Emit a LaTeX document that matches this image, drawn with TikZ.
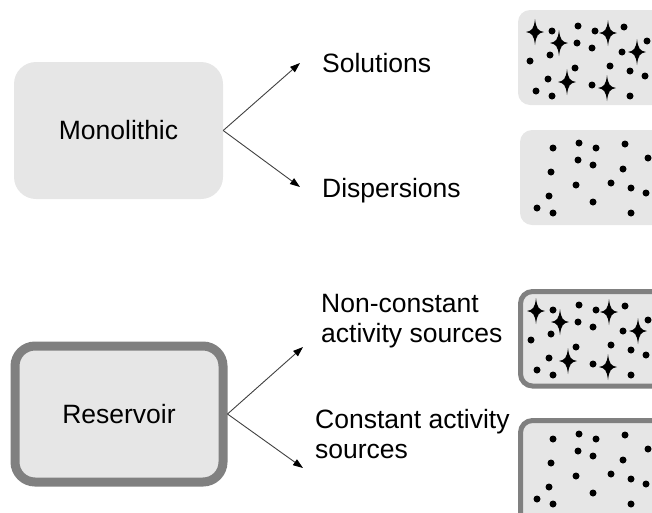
\documentclass[tikz,border=0pt]{standalone}
\usepackage{fontspec}
\setmainfont{Liberation Sans}
\usetikzlibrary{arrows.meta}
\definecolor{boxfill}{HTML}{E6E6E6}
\definecolor{rim}{HTML}{808080}
\definecolor{wire}{HTML}{404040}
\begin{document}
\begin{tikzpicture}[x=1pt,y=-1pt,
  every node/.style={font=\fontsize{26.5}{30}\selectfont},
  kindbox/.style={fill=boxfill, rounded corners=22pt, inner sep=0pt,
    minimum width=209pt, minimum height=137pt},
  rimbox/.style={kindbox, draw=rim, line width=9pt, rounded corners=20pt,
    minimum width=208pt, minimum height=136pt},
  label/.style={anchor=base west, inner sep=0pt, align=left},
  link/.style={draw=wire, line width=0.9pt,
    -{Triangle[length=10pt,width=7pt,fill=black,color=black]}},
  panel/.style={fill=boxfill, rounded corners=12pt},
  rimpanel/.style={panel, draw=rim, line width=5pt},
  grain/.pic={
    \foreach \a/\b in {33/18,59/13,76/18,105/14,128/28,58/30,73/35,103/39,
        31/42,56/55,91/53,111/58,126/63,29/66,17/78,33/83,73/72,111/83}
      \fill (\a,\b) circle (3.5pt);
  },
  sparkle/.pic={
    \fill (0,-13) .. controls (1.2,-3) and (3,-1.2) .. (9,0)
      .. controls (3,1.2) and (1.2,3) .. (0,13)
      .. controls (-1.2,3) and (-3,1.2) .. (-9,0)
      .. controls (-3,-1.2) and (-1.2,-3) .. (0,-13) -- cycle;
  },
  solute/.pic={
    \pic at (0,0) {grain};
    \fill (11,48) circle (3.5pt);
    \foreach \a/\b in {16/19,40/30,89/20,118/39,48/69,88/75}
      \pic at (\a,\b) {sparkle};
  }]
\useasboundingbox (0,0) rectangle (652,512);
\clip (0,0) rectangle (652,512);

% the two kinds of system
\node[kindbox] (mono) at (118.5,130.5) {Monolithic};
\node[rimbox] (res) at (119,414) {Reservoir};

% labels of the sub-types
\node[label] (sol) at (322,72) {Solutions};
\node[label] (disp) at (322,197) {Dispersions};
\node[label] (ncas) at (321,342) {Non-constant\\activity sources};
\node[label] (cas) at (315,458) {Constant activity\\sources};

% arrow tips
\coordinate (tsol) at (300,63);
\coordinate (tdisp) at (300,187);
\coordinate (tncas) at (303,347);
\coordinate (tcas) at (303,468);

\draw[link] (mono.east) -- (tsol);
\draw[link] (mono.east) -- (tdisp);
\draw[link] (res.east) -- (tncas);
\draw[link] (res.east) -- (tcas);

% sketches of the contents
\fill[panel] (518,10) rectangle (680,105);
\pic at (519,13) {solute};

\fill[panel] (520,130) rectangle (680,225);
\pic at (520,130) {grain};

\draw[rimpanel] (520.5,291.5) rectangle (680,386);
\pic at (520,292) {solute};

\draw[rimpanel] (520.5,420.5) rectangle (680,540);
\pic at (520,421) {grain};
\end{tikzpicture}
\end{document}
